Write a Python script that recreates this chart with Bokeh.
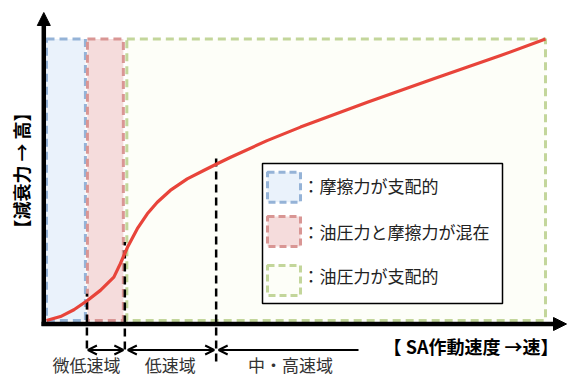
import numpy as np
from bokeh.plotting import figure
from bokeh.models import Range1d, Arrow, NormalHead, OpenHead, Label
from bokeh.embed import file_html
from bokeh.resources import INLINE

# ---- data (speed / damping force, arbitrary units 0-100) ----
speed = [0, 2.8, 5.5, 8.2, 10.8, 13.5, 14.8, 16.2, 18.2, 20.2, 22.2, 24.8, 28.2, 31.5,
         34.2, 36.9, 44.2, 50.9, 64.3, 77.6, 91.0, 100]
force = [0, 1.4, 3.8, 7.1, 10.7, 15.4, 20.2, 25.9, 32.6, 37.9, 42.0, 46.2, 50.3, 53.3,
         55.7, 58.0, 63.9, 68.7, 77.5, 85.9, 94.1, 100]

region_left = [0, 8.2, 16.1]
region_right = [7.8, 15.4, 100]
region_labels = ["：摩擦力が支配的", "：油圧力と摩擦力が混在", "：油圧力が支配的"]
region_line = ["#95B3D7", "#D99694", "#C3D69B"]
region_fill = ["#EAF2FB", "#F5DCDC", "#FDFEF8"]

boundaries = [8.1, 15.7, 34.0]
band_labels = ["微低速域", "低速域", "中・高速域"]
band_centers = [8.0, 24.8, 48.9]

x_title = "【 SA作動速度 →速】"
y_title = "【減衰力 → 高】"

# ---- pixel helpers (layout only) ----
def X(px):
    return (px - 46) / 4.99

def Y(py):
    return (320 - py) / 2.815

FONT = "Noto Sans CJK JP"

p = figure(width=568, height=378, x_range=Range1d(X(0), X(568)), y_range=Range1d(Y(378), Y(0)),
           x_axis_type=None, y_axis_type=None, toolbar_location=None, output_backend="svg",
           min_border=0, outline_line_color=None, background_fill_color="white",
           border_fill_color="white")
p.xgrid.visible = False
p.ygrid.visible = False

# regions
p.quad(left=region_left, right=region_right, bottom=[0] * 3, top=[100] * 3,
       fill_color=region_fill, line_color=region_line, line_width=3, line_dash="8 5")

# boundary dashed lines
tops = np.interp(boundaries, speed, force) + [2.5, 4.0, 2.0]
bottoms = [Y(348), Y(349), Y(361)]
p.segment(x0=boundaries, y0=list(bottoms), x1=boundaries, y1=list(tops),
          line_color="black", line_width=2.5, line_dash="8 5")

# curve
p.line(speed, force, line_color="#E8443A", line_width=3.2, line_join="round")

# axes with arrows
p.add_layout(Arrow(end=NormalHead(size=13, fill_color="black", line_color="black"),
                   x_start=X(43.3), y_start=Y(325.5), x_end=X(43.3), y_end=Y(12),
                   line_width=4.5, line_color="black"))
p.add_layout(Arrow(end=NormalHead(size=13, fill_color="black", line_color="black"),
                   x_start=X(41), y_start=Y(323.5), x_end=X(566), y_end=Y(323.5),
                   line_width=4.5, line_color="black"))

# band arrows
ya = Y(349.5)
p.add_layout(Arrow(start=OpenHead(size=9, line_width=2), end=OpenHead(size=9, line_width=2),
                   x_start=boundaries[0] + 0.2, y_start=ya, x_end=boundaries[1] - 0.3, y_end=ya,
                   line_width=2))
p.add_layout(Arrow(start=OpenHead(size=9, line_width=2), end=OpenHead(size=9, line_width=2),
                   x_start=boundaries[1] + 0.6, y_start=ya, x_end=boundaries[2] - 0.4, y_end=ya,
                   line_width=2))
p.add_layout(Arrow(start=OpenHead(size=9, line_width=2), end=None,
                   x_start=boundaries[2] + 0.5, y_start=ya, x_end=X(358), y_end=ya,
                   line_width=2))

for lbl, cx in zip(band_labels, band_centers):
    p.add_layout(Label(x=cx, y=Y(364), text=lbl, text_align="center", text_baseline="middle",
                       text_font=FONT, text_font_size="17px", text_color="#333333"))

# titles
p.add_layout(Label(x=X(558), y=Y(345), text=x_title, text_align="right", text_baseline="middle",
                   text_font=FONT, text_font_size="18px", text_font_style="bold", text_color="black"))
p.add_layout(Label(x=X(20), y=Y(170), text=y_title, angle=np.pi / 2, text_align="center",
                   text_baseline="middle", text_font=FONT, text_font_size="18px",
                   text_font_style="bold", text_color="black"))

# legend box
p.quad(left=[X(262)], right=[X(502)], top=[Y(163)], bottom=[Y(303)],
       fill_color="white", line_color="black", line_width=1.5)
sw_c = [186.7, 231.0, 280.0]
tx_c = [185.0, 231.0, 275.0]
p.quad(left=[X(267)] * 3, right=[X(300)] * 3,
       top=[Y(c - 15) for c in sw_c], bottom=[Y(c + 15) for c in sw_c],
       fill_color=region_fill, line_color=region_line, line_width=3, line_dash="7 4")
for lbl, c in zip(region_labels, tx_c):
    p.add_layout(Label(x=X(302), y=Y(c), text=lbl, text_align="left", text_baseline="middle",
                       text_font=FONT, text_font_size="17px", text_color="#222222"))

open("out.html", "w").write(file_html(p, INLINE))
